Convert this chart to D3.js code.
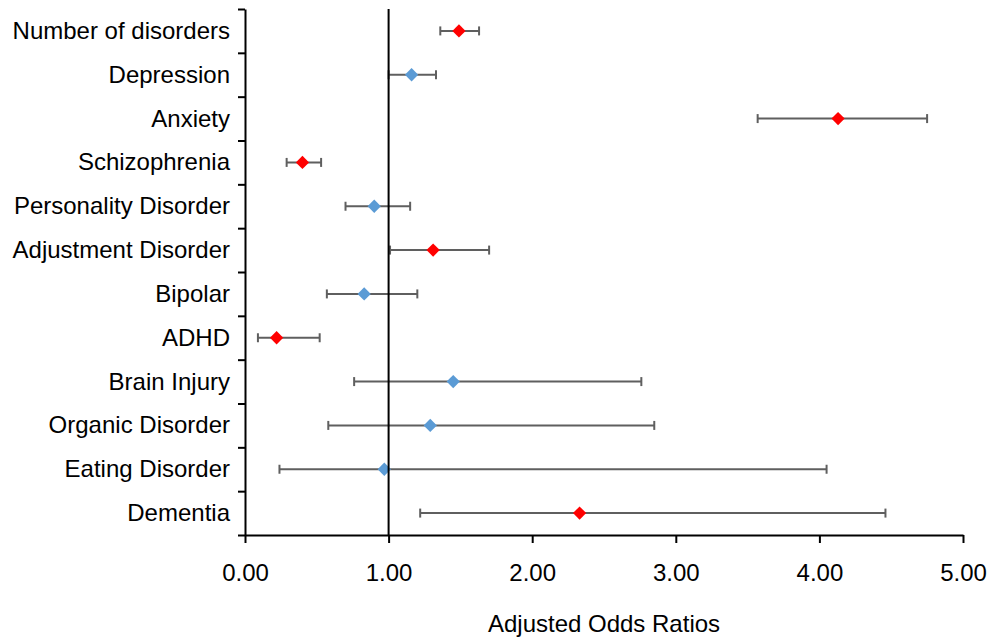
<!DOCTYPE html>
<html>
<head>
<meta charset="utf-8">
<script src="https://cdn.jsdelivr.net/npm/d3@7"></script>
<style>
  body { margin: 0; background: #fff; }
  text { font-family: "Liberation Sans", Arial, sans-serif; fill: #000; }
</style>
</head>
<body>
<div id="chart"></div>
<script>
(function() {
  var categories = ["Number of disorders", "Depression", "Anxiety", "Schizophrenia",
    "Personality Disorder", "Adjustment Disorder", "Bipolar", "ADHD",
    "Brain Injury", "Organic Disorder", "Eating Disorder", "Dementia"];
  var oddsRatio = [1.49, 1.16, 4.13, 0.40, 0.90, 1.31, 0.83, 0.22, 1.45, 1.29, 0.97, 2.33];
  var lowerCI   = [1.36, 1.00, 3.57, 0.29, 0.70, 1.01, 0.57, 0.09, 0.76, 0.58, 0.24, 1.22];
  var upperCI   = [1.63, 1.33, 4.75, 0.53, 1.15, 1.70, 1.20, 0.52, 2.76, 2.85, 4.05, 4.46];
  var significant = [true, false, true, true, false, true, false, true, false, false, false, true];
  var xTicks = [0, 1, 2, 3, 4, 5];

  var width = 991, height = 638;
  var left = 245, right = 963, top = 9, bottom = 535;

  var rows = categories.map(function(c, i) {
    return { name: c, or: oddsRatio[i], lo: lowerCI[i], hi: upperCI[i], sig: significant[i] };
  });

  var svg = d3.select("#chart").append("svg")
    .attr("width", width).attr("height", height);

  var x = d3.scaleLinear().domain([0, 5]).range([left, right]);
  var y = d3.scaleBand().domain(categories).range([top, bottom]).padding(0);
  var yEdge = d3.scaleLinear().domain([0, categories.length]).range([top, bottom]);

  // y axis: ticks at band edges, labels at band centres
  var yAxis = svg.append("g").attr("transform", "translate(" + left + ",0)")
    .call(d3.axisLeft(yEdge).tickValues(d3.range(categories.length + 1))
      .tickFormat("").tickSizeInner(7).tickSizeOuter(0));
  yAxis.selectAll("line, path").attr("stroke", "#000").attr("stroke-width", 2);

  svg.append("g").selectAll("text").data(categories).enter().append("text")
    .attr("x", left - 15)
    .attr("y", function(d) { return y(d) + y.bandwidth() / 2; })
    .attr("dy", "0.33em")
    .attr("text-anchor", "end")
    .style("font-size", "24px")
    .text(function(d) { return d; });

  // x axis
  var xAxis = svg.append("g").attr("transform", "translate(0," + bottom + ")")
    .call(d3.axisBottom(x).tickValues(xTicks).tickFormat(d3.format(".2f"))
      .tickSizeInner(8).tickSizeOuter(0).tickPadding(21));
  xAxis.select(".domain").attr("stroke", "#000").attr("stroke-width", 2);
  xAxis.selectAll("line").attr("stroke", "#000").attr("stroke-width", 2);
  xAxis.selectAll("text").style("font-size", "24px").attr("fill", "#000")
    .style("font-family", "'Liberation Sans', Arial, sans-serif");

  svg.append("text")
    .attr("x", (left + right) / 2).attr("y", 632)
    .attr("text-anchor", "middle")
    .style("font-size", "24px")
    .text("Adjusted Odds Ratios");

  // error bars
  var bars = svg.append("g").selectAll("g").data(rows).enter().append("g")
    .attr("transform", function(d) { return "translate(0," + (y(d.name) + y.bandwidth() / 2) + ")"; });
  bars.append("line")
    .attr("x1", function(d) { return x(d.lo); })
    .attr("x2", function(d) { return x(d.hi); })
    .attr("stroke", "#5f5f5f").attr("stroke-width", 2);
  bars.append("line")
    .attr("x1", function(d) { return x(d.lo); }).attr("x2", function(d) { return x(d.lo); })
    .attr("y1", -4.5).attr("y2", 4.5)
    .attr("stroke", "#5f5f5f").attr("stroke-width", 2);
  bars.append("line")
    .attr("x1", function(d) { return x(d.hi); }).attr("x2", function(d) { return x(d.hi); })
    .attr("y1", -4.5).attr("y2", 4.5)
    .attr("stroke", "#5f5f5f").attr("stroke-width", 2);

  // reference line at OR = 1
  svg.append("line")
    .attr("x1", x(1)).attr("x2", x(1))
    .attr("y1", top).attr("y2", bottom)
    .attr("stroke", "#000").attr("stroke-width", 2);

  // diamonds
  var diamond = d3.symbol().type(d3.symbolSquare).size(88);
  bars.append("path")
    .attr("d", diamond)
    .attr("transform", function(d) { return "translate(" + x(d.or) + ",0) rotate(45)"; })
    .attr("fill", function(d) { return d.sig ? "#ff0000" : "#5b9bd5"; });
})();
</script>
</body>
</html>
